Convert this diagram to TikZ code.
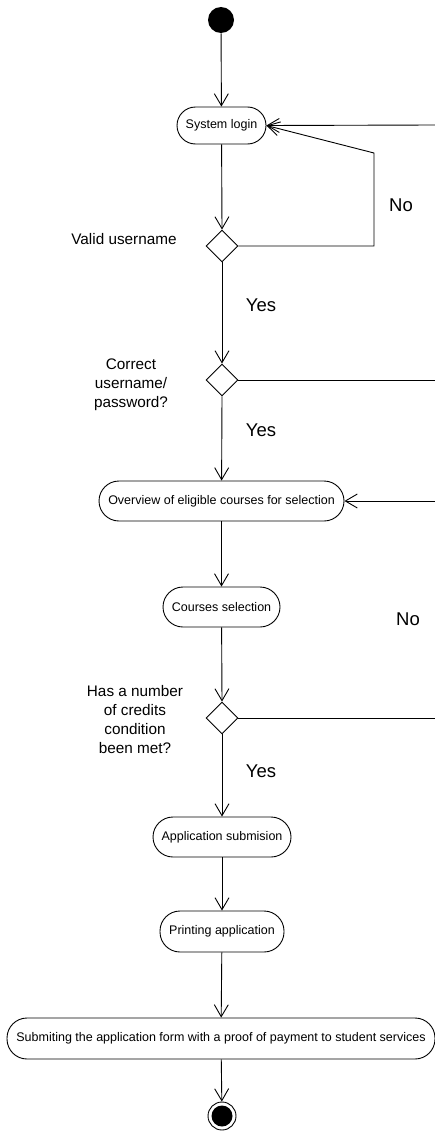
\documentclass[tikz,border=0pt]{standalone}
\usepackage{fontspec}
\setmainfont{Liberation Sans}
\usetikzlibrary{arrows.meta,shapes.geometric}

\begin{document}
\begin{tikzpicture}[x=1pt,y=-1pt,
  line width=0.9pt,
  flow/.style={-{Straight Barb[length=12pt,width=14pt,line width=0.9pt]}},
  activity/.style={draw, rectangle, rounded corners=20pt, minimum height=40pt,
    inner sep=0pt, font=\fontsize{12.5}{15}\selectfont},
  decision/.style={draw, diamond, minimum width=32pt, minimum height=32pt,
    inner sep=0pt},
  guard/.style={font=\fontsize{18.5}{22}\selectfont, inner sep=0pt},
  cond/.style={font=\fontsize{15.3}{19}\selectfont, align=center, inner sep=0pt}
]
\useasboundingbox (0,0) rectangle (435,1140);

% start and end states
\node (start) [circle, fill=black, minimum size=26pt, inner sep=0pt] at (221,20) {};
\node (finish) [circle, draw, minimum size=28pt, inner sep=0pt] at (222,1116) {};
\fill (finish.center) circle (10.5pt);

% activities
\node (login) [activity, minimum width=89pt, minimum height=37pt,
  rounded corners=18.5pt] at (221.5,125.5) {System login};
\node (overview) [activity, minimum width=245pt] at (221.5,501) {Overview of eligible courses for selection};
\node (courses) [activity, minimum width=117pt] at (221.5,607) {Courses selection};
\node (submission) [activity, minimum width=138pt] at (222,837) {Application submision};
\node (printing) [activity, minimum width=124pt, minimum height=41pt] at (222,931.5) {Printing application};
\node (handin) [activity, minimum width=428pt, minimum height=41pt] at (221,1038.5)
  {Submiting the application form with a proof of payment to student services};

% decisions
\node (d1) [decision] at (222,246) {};
\node (d2) [decision] at (222,380) {};
\node (d3) [decision] at (222,718) {};

% decision texts
\node (c1) [cond] at (124,239) {Valid username};
\node (c2) [cond] at (131,385) {Correct\\username/\\password?};
\node (c3) [cond] at (135,720) {Has a number\\of credits\\condition\\been met?};

% guard labels
\node (y1) [guard] at (261,305) {Yes};
\node (y2) [guard] at (261,430) {Yes};
\node (y3) [guard] at (261,771) {Yes};
\node (n1) [guard] at (401,205) {No};
\node (n2) [guard] at (408,619) {No};

% free ends leaving the page on the right
\coordinate (r1) at (435,125);
\coordinate (r2) at (435,380);
\coordinate (r3) at (435,501);
\coordinate (r4) at (435,718);
\coordinate (loopA) at (374,246);
\coordinate (loopB) at (374,153);

% main flow
\draw[flow] (start) -- (login);
\draw[flow] (login) -- (d1.north);
\draw[flow] (d1.south) -- (d2.north);
\draw[flow] (d2.south) -- (overview);
\draw[flow] (overview) -- (courses);
\draw[flow] (courses) -- (d3.north);
\draw[flow] (d3.south) -- (submission);
\draw[flow] (submission) -- (printing);
\draw[flow] (printing) -- (handin);
\draw[flow] (handin) -- (finish);

% return paths
\draw[flow] (r1) -- (login.east);
\draw[flow] (d1.east) -- (loopA) -- (loopB) -- (login.east);
\draw (d2.east) -- (r2);
\draw[flow] (r3) -- (overview.east);
\draw (d3.east) -- (r4);
\end{tikzpicture}
\end{document}
